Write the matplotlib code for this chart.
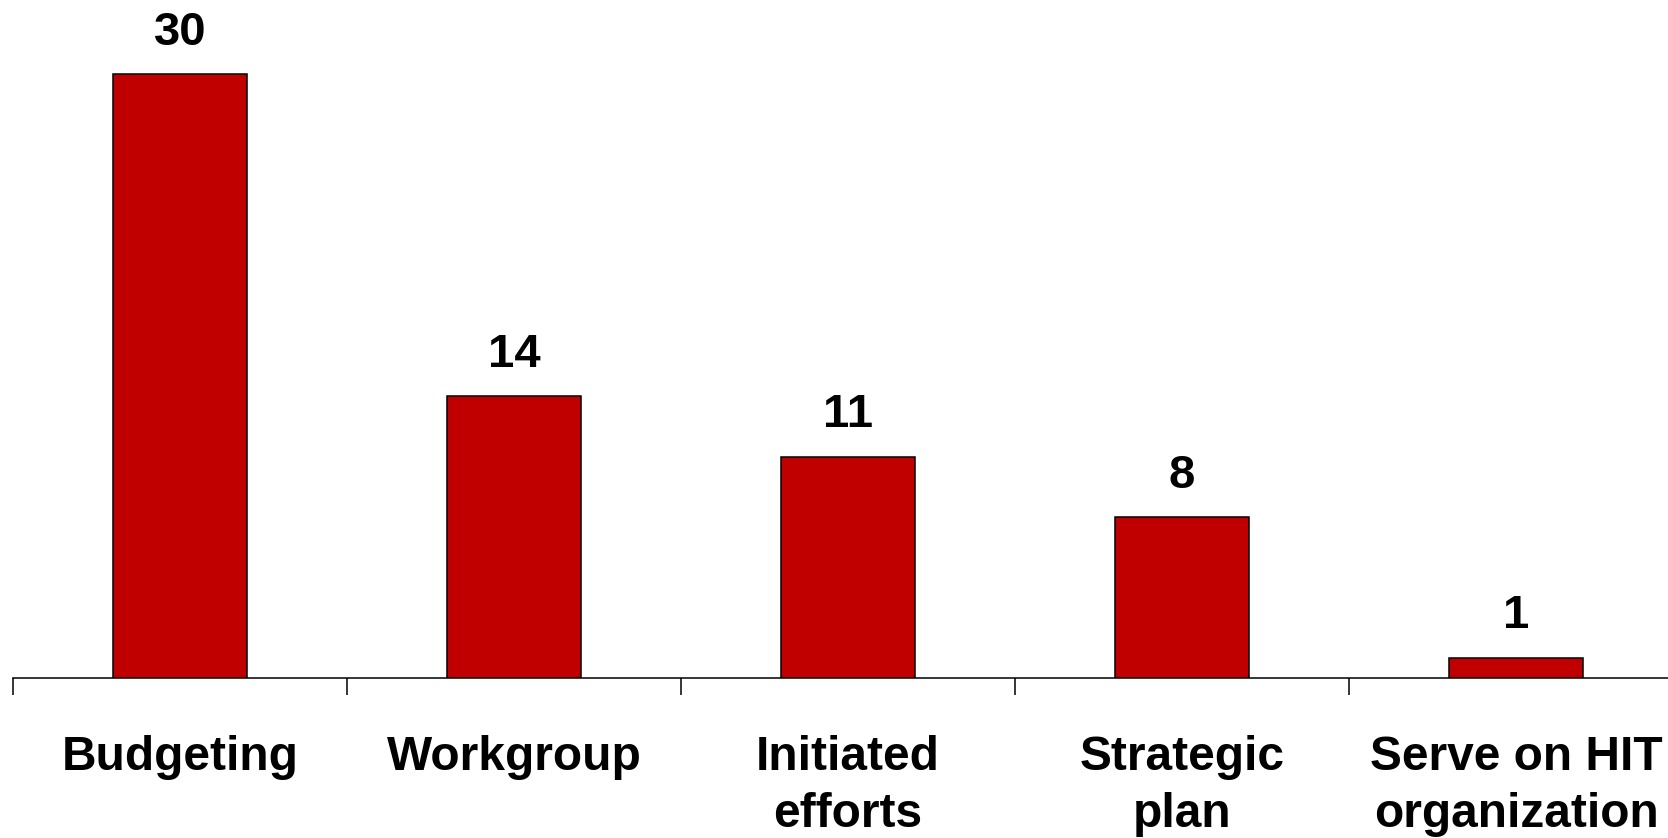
import numpy as np
import matplotlib
matplotlib.use("Agg")
from matplotlib import pyplot as plt

categories = ["Budgeting", "Workgroup", "Initiated\nefforts", "Strategic\nplan", "Serve on HIT\norganization"]
counts = [30, 14, 11, 8, 1]

plt.rcParams['font.family'] = ['Liberation Sans', 'DejaVu Sans']
plt.rcParams['font.weight'] = 'bold'

W, H, DPI = 1668, 838, 100
fig = plt.figure(figsize=(W / DPI, H / DPI), dpi=DPI)
ax = fig.add_axes([13 / W, (H - 678) / H, 1670 / W, 678 / H])

x = np.arange(len(categories))
ax.bar(x, counts, width=0.4, color='#C00000', edgecolor='black', linewidth=1.1, zorder=3)

for xi, v in zip(x, counts):
    ax.annotate(str(v), (xi, v), xytext=(0, 14), textcoords='offset points',
                ha='center', va='bottom', fontsize=34, fontweight='bold')

ax.set_xlim(-0.5, len(categories) - 0.5)
ax.set_ylim(0, 33.7)

ax.set_xticks(x)
ax.set_xticklabels(categories, fontsize=34.5, fontweight='bold', linespacing=1.35)
ax.set_xticks(np.arange(len(categories)) - 0.5, minor=True)
ax.tick_params(axis='x', which='major', length=0, pad=41)
ax.tick_params(axis='x', which='minor', length=12.5, width=1.1, direction='out')
ax.set_yticks([])

for s in ['left', 'right', 'top']:
    ax.spines[s].set_visible(False)
ax.spines['bottom'].set_linewidth(1.1)

fig.savefig('out.png', dpi=DPI)
